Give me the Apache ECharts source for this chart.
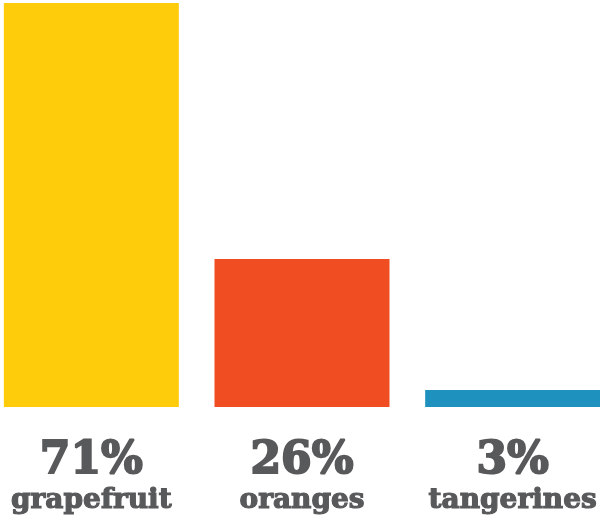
<!DOCTYPE html>
<html>
<head>
<meta charset="utf-8">
<script src="https://cdn.jsdelivr.net/npm/echarts@6/dist/echarts.min.js"></script>
<style>
  html, body { margin: 0; padding: 0; background: #fff; }
  #chart { width: 600px; height: 521px; }
</style>
</head>
<body>
<div id="chart"></div>
<script>
// Fruit share, in percent
const categories = ['grapefruit', 'oranges', 'tangerines'];
const shares = [71, 26, 3];
const barColors = ['#FECC0B', '#F14D22', '#1F91BF'];

const chart = echarts.init(document.getElementById('chart'));

const textColor = '#58595b';
const fontFamily = '"DejaVu Serif", "Liberation Serif", serif';

chart.setOption({
  animation: false,
  grid: { left: -14, right: -18, top: 3, bottom: 114, outerBoundsMode: 'none', containLabel: false },
  xAxis: {
    type: 'category',
    data: categories,
    axisLine: { show: false },
    axisTick: { show: false },
    axisLabel: {
      interval: 0,
      margin: 32,
      formatter: (name, idx) => '{pct|' + shares[idx] + '%}\n{name|' + name + '}',
      rich: {
        // a thin stroke in the fill colour gives the labels a heavier, poster-like weight
        pct: {
          fontSize: 44, fontWeight: 'bold', fontFamily, color: textColor, lineHeight: 46,
          textBorderColor: textColor, textBorderWidth: 2
        },
        name: {
          fontSize: 28, fontWeight: 'bold', fontFamily, color: textColor, lineHeight: 32,
          textBorderColor: textColor, textBorderWidth: 1.2
        }
      }
    }
  },
  yAxis: {
    type: 'value',
    min: 0,
    max: 71,
    show: false,
    splitLine: { show: false }
  },
  series: [{
    type: 'bar',
    barWidth: 175,
    data: shares.map((v, i) => ({ value: v, itemStyle: { color: barColors[i] } }))
  }]
});
</script>
</body>
</html>
